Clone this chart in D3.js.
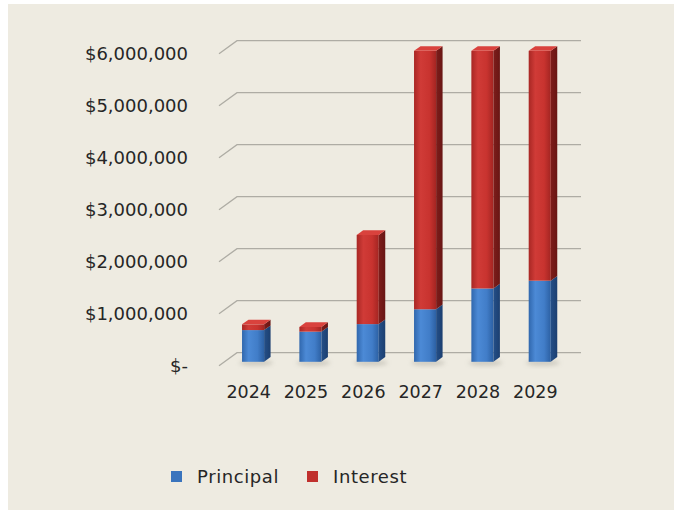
<!DOCTYPE html>
<html>
<head>
<meta charset="utf-8">
<script src="https://cdn.jsdelivr.net/npm/d3@7/dist/d3.min.js"></script>
<style>
  html, body { margin: 0; padding: 0; background: #ffffff; }
  svg { display: block; }
</style>
</head>
<body>
<svg id="chart" width="674" height="510"></svg>
<script>
// Debt service by year (USD)
const years = ["2024", "2025", "2026", "2027", "2028", "2029"];
const principal = [610000, 580000, 725000, 1010000, 1410000, 1560000];
const interest = [110000, 90000, 1715000, 4970000, 4570000, 4420000];
const seriesNames = ["Principal", "Interest"];
const yTickValues = [0, 1000000, 2000000, 3000000, 4000000, 5000000, 6000000];
const yTickLabels = ["$-", "$1,000,000", "$2,000,000", "$3,000,000", "$4,000,000", "$5,000,000", "$6,000,000"];

const svg = d3.select("#chart");
const W = 674, H = 510;

// Chart area background (thin white margin on the left and top)
svg.append("rect").attr("x", 8).attr("y", 4).attr("width", W - 8).attr("height", H - 4)
  .attr("fill", "#eeebe1");

// 3D projection: front plane scales plus a depth offset toward the back wall
const depth = { dx: 18, dy: -13 };
const x = d3.scaleBand().domain(years).range([219, 563]).padding(0);
const y = d3.scaleLinear().domain([0, 6000000]).range([365.7, 53.7]);
const barW = x.bandwidth() * 0.385;
const f0 = 0.3, f1 = 0.66; // bar front / back depth fractions

const defs = svg.append("defs");
function hGrad(id, stops) {
  const g = defs.append("linearGradient").attr("id", id)
    .attr("x1", "0%").attr("x2", "100%").attr("y1", "0%").attr("y2", "0%");
  stops.forEach(([o, c]) => g.append("stop").attr("offset", o).attr("stop-color", c));
}
hGrad("pFront", [["0%", "#3067ad"], ["30%", "#4c8ad6"], ["70%", "#417dc8"], ["100%", "#2c60a3"]]);
hGrad("pSide", [["0%", "#244f88"], ["100%", "#1c3f70"]]);
hGrad("iFront", [["0%", "#a82724"], ["30%", "#d03b37"], ["70%", "#c8332f"], ["100%", "#a32522"]]);
hGrad("iSide", [["0%", "#7e1d1b"], ["100%", "#681614"]]);
const shadowF = defs.append("filter").attr("id", "soft").attr("x", "-50%").attr("y", "-50%")
  .attr("width", "200%").attr("height", "200%");
shadowF.append("feGaussianBlur").attr("stdDeviation", 2);

// Gridlines: left side-wall diagonal plus back-wall horizontal
const grid = svg.append("g").attr("stroke", "#aeaca4").attr("stroke-width", 1.3).attr("fill", "none");
yTickValues.forEach(v => {
  const yf = y(v), yb = y(v) + depth.dy;
  grid.append("path")
    .attr("d", `M${x.range()[0]},${yf}L${x.range()[0] + depth.dx},${yb}L${x.range()[1] + depth.dx},${yb}`);
});

// Y tick labels
svg.append("g").selectAll("text").data(yTickValues).join("text")
  .attr("x", 188).attr("y", v => y(v))
  .attr("dy", "0.36em").attr("text-anchor", "end")
  .attr("font-family", "DejaVu Sans, Verdana, sans-serif").attr("font-size", 18)
  .attr("fill", "#262626")
  .text((v, i) => yTickLabels[i]);

// Stacked data
const rows = years.map((yr, i) => ({ year: yr, Principal: principal[i], Interest: interest[i] }));
const stack = d3.stack().keys(seriesNames)(rows);
const fills = {
  Principal: { front: "url(#pFront)", side: "url(#pSide)", top: "#5b98de" },
  Interest: { front: "url(#iFront)", side: "url(#iSide)", top: "#d9423d" }
};

// Floor shadows under bars
const bars = svg.append("g");
years.forEach(yr => {
  const cx = x(yr) + x.bandwidth() / 2 - barW / 2 + depth.dx * f0;
  bars.append("ellipse")
    .attr("cx", cx + barW / 2 + 3).attr("cy", y(0) + depth.dy * f0 + 1)
    .attr("rx", barW / 2 + 6).attr("ry", 3)
    .attr("fill", "#b9b6ab").attr("opacity", 0.6).attr("filter", "url(#soft)");
});

// Bars, drawn as front face, side face and top face per segment
stack.forEach((layer, li) => {
  const key = layer.key;
  const isTop = li === stack.length - 1;
  layer.forEach((d, i) => {
    const yr = years[i];
    const x0 = x(yr) + x.bandwidth() / 2 - barW / 2 + depth.dx * f0;
    const x1 = x0 + barW;
    const ddx = depth.dx * (f1 - f0), ddy = depth.dy * (f1 - f0);
    const yb = y(d[0]) + depth.dy * f0;
    const yt = y(d[1]) + depth.dy * f0;
    const g = bars.append("g");
    g.append("rect").attr("x", x0).attr("y", yt).attr("width", barW).attr("height", yb - yt)
      .attr("fill", fills[key].front);
    g.append("path")
      .attr("d", `M${x1},${yb}L${x1 + ddx},${yb + ddy}L${x1 + ddx},${yt + ddy}L${x1},${yt}Z`)
      .attr("fill", fills[key].side);
    if (isTop) {
      g.append("path")
        .attr("d", `M${x0},${yt}L${x0 + ddx},${yt + ddy}L${x1 + ddx},${yt + ddy}L${x1},${yt}Z`)
        .attr("fill", fills[key].top);
    }
  });
});

// Category labels
svg.append("g").selectAll("text").data(years).join("text")
  .attr("x", d => x(d) + x.bandwidth() / 2 + 1)
  .attr("y", 392).attr("dy", "0.36em").attr("text-anchor", "middle")
  .attr("font-family", "DejaVu Sans, Verdana, sans-serif").attr("font-size", 17.5)
  .attr("fill", "#262626")
  .text(d => d);

// Legend
const legendX = [171, 307];
const legendSwatch = { Principal: "#3a74bd", Interest: "#c0302d" };
const legend = svg.append("g");
seriesNames.forEach((name, i) => {
  legend.append("rect").attr("x", legendX[i]).attr("y", 471).attr("width", 11).attr("height", 11)
    .attr("fill", legendSwatch[name]);
  legend.append("text").attr("x", legendX[i] + 26).attr("y", 477).attr("dy", "0.36em")
    .attr("font-family", "DejaVu Sans, Verdana, sans-serif").attr("font-size", 18)
    .attr("letter-spacing", 0.6).attr("fill", "#262626")
    .text(name);
});
</script>
</body>
</html>
